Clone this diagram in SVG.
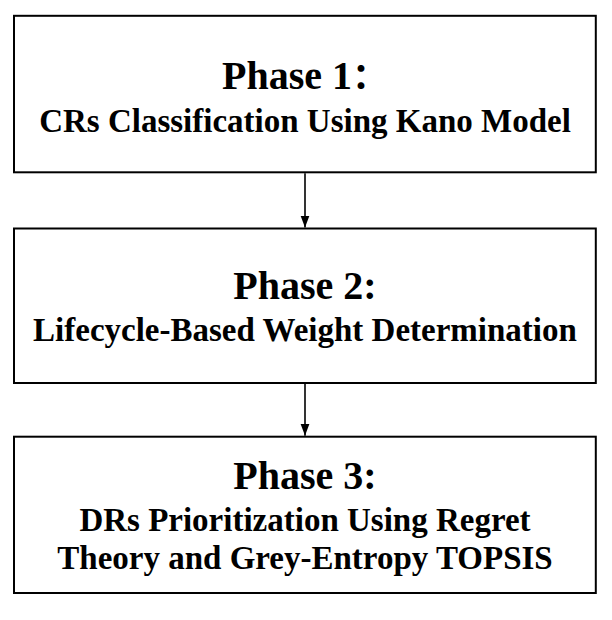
<svg xmlns="http://www.w3.org/2000/svg" width="612" height="620" viewBox="0 0 612 620">
<defs>
<style>
.box{fill:#fff;stroke:#000;stroke-width:2}
.h{font-family:"Liberation Serif","Noto Sans CJK SC",serif;font-weight:bold;font-size:40px;text-anchor:middle;fill:#000}
.t{font-family:"Liberation Serif",serif;font-weight:bold;font-size:33px;text-anchor:middle;fill:#000}
.c{stroke:#000;stroke-width:1.6;fill:none}
</style>
<marker id="ah" markerUnits="userSpaceOnUse" markerWidth="14" markerHeight="10" refX="12" refY="4.5" orient="auto">
<path d="M0,0 L12,4.5 L0,9 Z" fill="#000"/>
</marker>
</defs>
<rect width="612" height="620" fill="#fff"/>
<g id="phase1">
<rect class="box" x="14" y="15.8" width="581.8" height="156.5"/>
<text class="h" x="305" y="89">Phase 1<tspan style="font-size:36px">：</tspan></text>
<text class="t" x="305" y="131.5">CRs Classification Using Kano Model</text>
</g>
<g id="phase2">
<rect class="box" x="14" y="228.5" width="581.8" height="154.5"/>
<text class="h" x="305" y="298.5">Phase 2:</text>
<text class="t" x="305" y="341">Lifecycle-Based Weight Determination</text>
</g>
<g id="phase3">
<rect class="box" x="14" y="436.7" width="581.8" height="156.3"/>
<text class="h" x="305" y="488.5">Phase 3:</text>
<text class="t" x="305" y="530.5">DRs Prioritization Using Regret</text>
<text class="t" x="305" y="568.5">Theory and Grey-Entropy TOPSIS</text>
</g>
<g id="connectors">
<line class="c" x1="305" y1="173.3" x2="305" y2="227.5" marker-end="url(#ah)"/>
<line class="c" x1="305" y1="384" x2="305" y2="435.7" marker-end="url(#ah)"/>
</g>
</svg>
